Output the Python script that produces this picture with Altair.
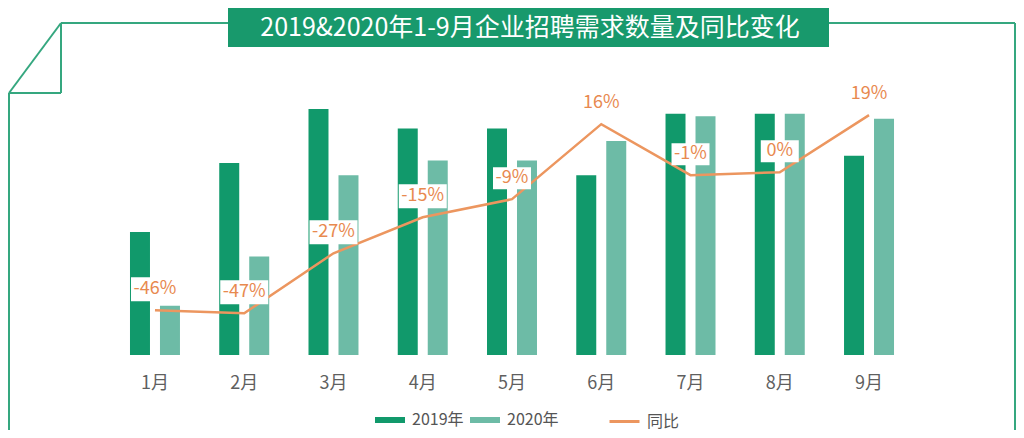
import altair as alt
import pandas as pd

# ---- data ----
months = ["1月", "2月", "3月", "4月", "5月", "6月", "7月", "8月", "9月"]
series_names = ["2019年", "2020年"]
demand_2019 = [50, 78, 100, 92, 92, 73, 98, 98, 81]
demand_2020 = [20, 40, 73, 79, 79, 87, 97, 98, 96]
yoy = [-46, -47, -27, -15, -9, 16, -1, 0, 19]
yoy_labels = ["-46%", "-47%", "-27%", "-15%", "-9%", "16%", "-1%", "0%", "19%"]
line_name = "同比"
title_text = "2019&2020年1-9月企业招聘需求数量及同比变化"

# ---- styles ----
DARK = "#11996b"
LIGHT = "#6dbba6"
ORANGE = "#ec965f"
ORANGE_TXT = "#e8894f"
FRAME = "#35a77f"
BANNER = "#18996c"
FONT = "Noto Sans CJK SC"

bar_df = pd.DataFrame({
    "month": months * 2,
    "series": [series_names[0]] * len(months) + [series_names[1]] * len(months),
    "value": demand_2019 + demand_2020,
})
line_df = pd.DataFrame({"month": months, "yoy": yoy, "label": yoy_labels})
deco_df = pd.DataFrame({"title": [title_text]})

L = 77          # left padding of the plot area
W, H = 854, 347
x_scale = alt.Scale(paddingInner=0.44, paddingOuter=0.504)
x_axis = alt.Axis(ticks=False, domain=False, grid=False, labelPadding=19, labelFontSize=18,
                  labelColor="#5f5f5f", labelFont=FONT, labelAngle=0, title=None)

def xenc():
    return alt.X("month:N", sort=months, scale=x_scale, axis=x_axis, title=None)

y_line = alt.Y("yoy:Q", scale=alt.Scale(domain=[-60.9, 54.7], nice=False, zero=False), axis=None)

# ---- decorations (frame and banner), page-relative positions shifted by L ----
def rule(x1, y1, x2, y2):
    return alt.Chart(deco_df).mark_rule(color=FRAME, strokeWidth=2).encode(
        x=alt.value(x1 - L), y=alt.value(y1), x2=alt.value(x2 - L), y2=alt.value(y2))

frame = [
    rule(53, 15, 220, 15),
    rule(821, 15, 1007, 15),
    rule(1007, 15, 1007, 422),
    rule(53, 15, 53, 85),
    rule(1, 85, 53, 85),
    rule(53, 15, 1, 85),
    rule(1, 85, 1, 422),
]
banner = alt.Chart(deco_df).mark_rect(color=BANNER).encode(
    x=alt.value(220 - L), x2=alt.value(821 - L), y=alt.value(0), y2=alt.value(39))
title = alt.Chart(deco_df).mark_text(
    font=FONT, fontSize=25, color="white", align="center", baseline="middle"
).encode(x=alt.value(522 - L), y=alt.value(20), text="title:N")

# ---- bars ----
bars = alt.Chart(bar_df).mark_bar().encode(
    x=xenc(),
    xOffset=alt.XOffset("series:N", sort=series_names,
                        scale=alt.Scale(paddingInner=1 / 3, paddingOuter=0)),
    y=alt.Y("value:Q", scale=alt.Scale(domain=[0, 141], nice=False), axis=None),
    color=alt.Color("series:N", sort=series_names,
                    scale=alt.Scale(domain=series_names, range=[DARK, LIGHT]),
                    legend=alt.Legend(orient="none", legendX=367 - L, legendY=397,
                                      direction="horizontal", title=None,
                                      symbolType="M-1,-0.2H1V0.2H-1Z", symbolSize=900,
                                      symbolStrokeWidth=0, labelOffset=7,
                                      columnPadding=6, labelFontSize=16,
                                      labelColor="#555555", labelFont=FONT)),
)

# ---- YoY line ----
line = alt.Chart(line_df).transform_calculate(metric=f'"{line_name}"').mark_line(
    strokeWidth=2.5).encode(
    x=xenc(),
    y=y_line,
    stroke=alt.Stroke("metric:N",
                      scale=alt.Scale(domain=[line_name], range=[ORANGE]),
                      legend=alt.Legend(orient="none", legendX=600 - L, legendY=397,
                                        direction="horizontal", title=None,
                                        symbolType="stroke", symbolSize=900,
                                        symbolStrokeWidth=3, labelOffset=6,
                                        labelFontSize=16, labelColor="#555555",
                                        labelFont=FONT)),
)

boxes = alt.Chart(line_df).mark_point(
    filled=True, color="white", opacity=1, size=2500, yOffset=-21, strokeWidth=0
).encode(
    x=xenc(),
    y=y_line,
    shape=alt.condition("length(datum.label) >= 4",
                        alt.value("M-0.96,-0.48H0.96V0.48H-0.96Z"),
                        alt.value("M-0.76,-0.44H0.76V0.44H-0.76Z")),
)

labels = alt.Chart(line_df).mark_text(
    dy=-21, fontSize=18, color=ORANGE_TXT, font=FONT, align="center", baseline="middle"
).encode(x=xenc(), y=y_line, text="label:N")

chart = alt.layer(
    *frame, banner, title, bars, line, boxes, labels
).resolve_scale(y="independent").properties(
    width=W, height=H,
    autosize=alt.AutoSizeParams(type="none"),
    padding={"left": L, "top": 0, "right": 1008 - L - W, "bottom": 75},
    background="white",
).configure(font=FONT).configure_view(stroke=None)

chart.save("out.html", embed_options={"renderer": "svg", "actions": False})
